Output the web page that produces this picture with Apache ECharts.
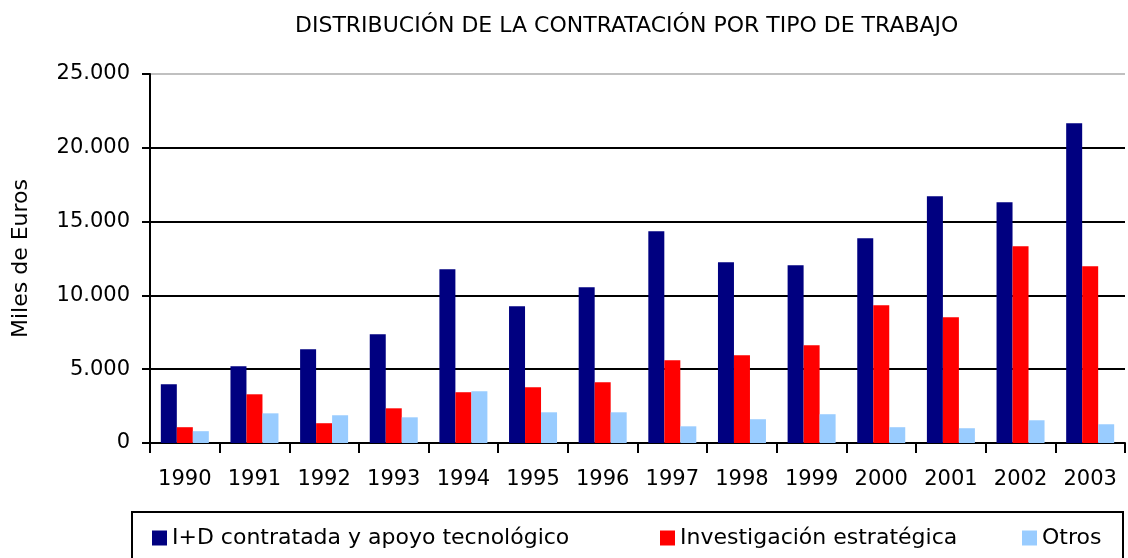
<!DOCTYPE html>
<html>
<head>
<meta charset="utf-8">
<script src="https://cdn.jsdelivr.net/npm/echarts@6/dist/echarts.min.js"></script>
<style>
  html, body { margin: 0; padding: 0; background: #fff; }
  #chart { width: 1128px; height: 558px; }
</style>
</head>
<body>
<div id="chart"></div>
<script>
// datos (miles de euros)
const years = ['1990', '1991', '1992', '1993', '1994', '1995', '1996', '1997', '1998', '1999', '2000', '2001', '2002', '2003'];
const idContratada = [3980, 5200, 6350, 7370, 11770, 9260, 10550, 14350, 12240, 12040, 13870, 16720, 16310, 21660];
const investigacion = [1070, 3300, 1340, 2350, 3440, 3780, 4110, 5600, 5940, 6620, 9330, 8520, 13330, 11970];
const otros = [800, 2010, 1880, 1740, 3500, 2080, 2080, 1130, 1610, 1950, 1070, 1000, 1540, 1270];
const seriesNames = ['I+D contratada y apoyo tecnológico', 'Investigación estratégica', 'Otros'];

const FONT = '"DejaVu Sans", sans-serif';

const chartDom = document.getElementById('chart');
const myChart = echarts.init(chartDom);

const fmt = v => String(v).replace(/\B(?=(\d{3})+(?!\d))/g, '.');

// una leyenda por serie para colocar cada entrada como en el original
const legendLeft = [152, 660, 1022];
const legends = seriesNames.map((name, i) => ({
  left: legendLeft[i],
  top: 527,
  padding: 0,
  itemWidth: 15,
  itemHeight: 15,
  icon: 'rect',
  data: [name],
  textStyle: { fontFamily: FONT, fontSize: 22, color: '#000' }
}));

const option = {
  animation: false,
  title: {
    text: 'DISTRIBUCIÓN DE LA CONTRATACIÓN POR TIPO DE TRABAJO',
    left: 290,
    top: 10,
    textStyle: { fontFamily: FONT, fontSize: 22, fontWeight: 'normal', color: '#000' }
  },
  legend: legends,
  grid: { left: 150, right: 3, top: 74, bottom: 115, containLabel: false },
  xAxis: {
    type: 'category',
    data: years,
    axisLine: { lineStyle: { color: '#000', width: 2 } },
    axisTick: { show: true, length: 10, lineStyle: { color: '#000', width: 2 } },
    axisLabel: { margin: 26, fontFamily: FONT, fontSize: 21, color: '#000' },
    splitLine: { show: false }
  },
  yAxis: {
    type: 'value',
    min: 0,
    max: 25000,
    interval: 5000,
    name: 'Miles de Euros',
    nameLocation: 'middle',
    nameGap: 118,
    nameTextStyle: { fontFamily: FONT, fontSize: 22, color: '#000' },
    axisLine: { show: true, lineStyle: { color: '#000', width: 2 } },
    axisTick: { show: true, length: 8, lineStyle: { color: '#000', width: 2 } },
    axisLabel: { margin: 20, fontFamily: FONT, fontSize: 21, color: '#000', formatter: fmt },
    splitLine: {
      show: true,
      lineStyle: { color: ['#000', '#000', '#000', '#000', '#000', '#c0c0c0'], width: 2 }
    }
  },
  series: [
    { name: seriesNames[0], type: 'bar', data: idContratada, barWidth: 16, barGap: '0%', itemStyle: { color: '#000080' } },
    { name: seriesNames[1], type: 'bar', data: investigacion, barWidth: 16, barGap: '0%', itemStyle: { color: '#ff0000' } },
    { name: seriesNames[2], type: 'bar', data: otros, barWidth: 16, barGap: '0%', itemStyle: { color: '#99ccff' } }
  ],
  graphic: [
    {
      type: 'rect',
      shape: { x: 132, y: 512, width: 991, height: 60 },
      style: { fill: 'none', stroke: '#000', lineWidth: 2 },
      silent: true
    }
  ]
};

option && myChart.setOption(option);
</script>
</body>
</html>
